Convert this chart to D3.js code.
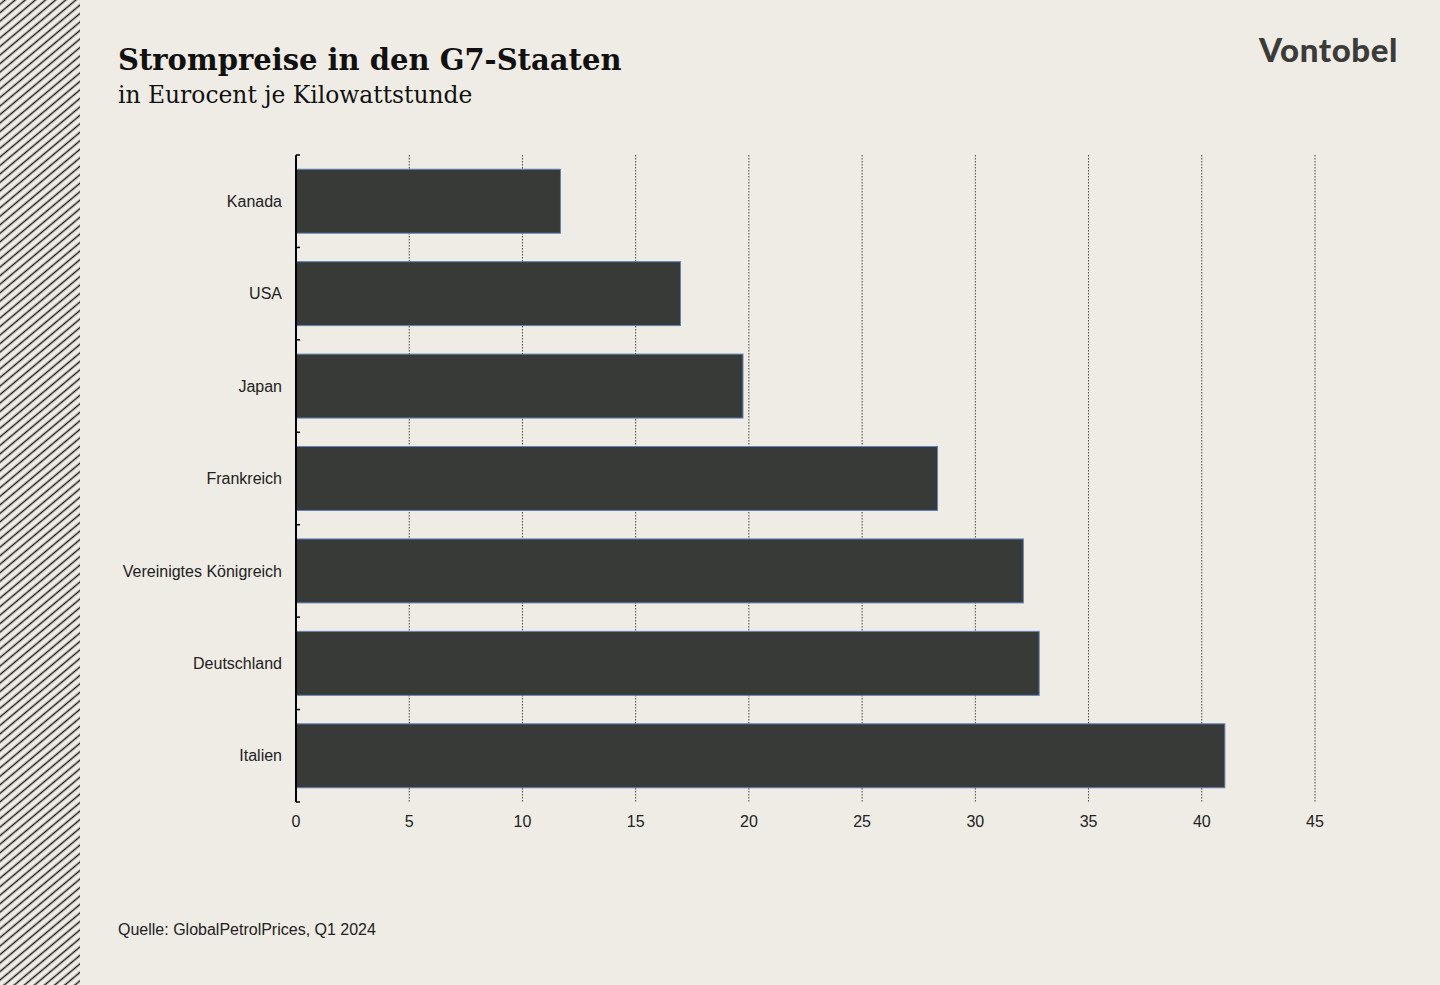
<!DOCTYPE html>
<html>
<head>
<meta charset="utf-8">
<script src="https://cdn.jsdelivr.net/npm/d3@7"></script>
<style>
  html, body { margin: 0; padding: 0; background: #efece5; }
  svg { display: block; }
</style>
</head>
<body>
<svg id="chart" width="1440" height="985"></svg>
<script>
const categories = ["Kanada", "USA", "Japan", "Frankreich", "Vereinigtes Königreich", "Deutschland", "Italien"];
const values = [11.68, 16.98, 19.74, 28.33, 32.12, 32.82, 41.02];
const xTicks = [0, 5, 10, 15, 20, 25, 30, 35, 40, 45];
const titleText = "Strompreise in den G7-Staaten";
const subtitleText = "in Eurocent je Kilowattstunde";
const sourceText = "Quelle: GlobalPetrolPrices, Q1 2024";
const logoText = "Vontobel";

const W = 1440, H = 985;
const svg = d3.select("#chart");
const bg = "#efece5", ink = "#222222", barFill = "#383a37", barStroke = "#5f84bb";

svg.append("rect").attr("width", W).attr("height", H).attr("fill", bg);

// hatched strip on left
const defs = svg.append("defs");
const pat = defs.append("pattern")
  .attr("id", "hatch").attr("patternUnits", "userSpaceOnUse")
  .attr("width", 20).attr("height", 6.5)
  .attr("patternTransform", "rotate(-40)");
pat.append("rect").attr("width", 20).attr("height", 6.5).attr("fill", bg);
pat.append("rect").attr("x", 0).attr("y", 2.5).attr("width", 20).attr("height", 1.5).attr("fill", "#1f1f1f");
svg.append("rect").attr("x", 0).attr("y", 0).attr("width", 80).attr("height", H).attr("fill", "url(#hatch)");

const x = d3.scaleLinear().domain([0, 45]).range([296, 1315]);
const y = d3.scaleBand().domain(categories).range([155, 802]).paddingInner(0.308).paddingOuter(0.154);

// gridlines
svg.append("g").selectAll("line").data(xTicks.filter(d => d > 0)).join("line")
  .attr("x1", d => x(d)).attr("x2", d => x(d))
  .attr("y1", 155).attr("y2", 802)
  .attr("stroke", "#444").attr("stroke-width", 1).attr("stroke-dasharray", "1.5,1.5");

// bars
svg.append("g").selectAll("rect").data(categories).join("rect")
  .attr("x", x(0)).attr("y", d => y(d))
  .attr("width", (d, i) => x(values[i]) - x(0))
  .attr("height", y.bandwidth())
  .attr("fill", barFill).attr("stroke", barStroke).attr("stroke-width", 1);

// y axis (ticks at band boundaries, pointing inward)
const bounds = d3.range(categories.length + 1).map(i => 155 + i * y.step());
const yAxis = svg.append("g");
yAxis.append("line").attr("x1", x(0)).attr("x2", x(0)).attr("y1", 155).attr("y2", 802)
  .attr("stroke", "#000").attr("stroke-width", 2);
yAxis.selectAll("line.tk").data(bounds).join("line").attr("class", "tk")
  .attr("x1", x(0)).attr("x2", x(0) + 4).attr("y1", d => d).attr("y2", d => d)
  .attr("stroke", "#000").attr("stroke-width", 1.5);
yAxis.selectAll("text").data(categories).join("text")
  .attr("x", 282).attr("y", d => y(d) + y.bandwidth() / 2)
  .attr("dy", "0.35em").attr("text-anchor", "end")
  .attr("font-family", "Liberation Sans, Arial, sans-serif").attr("font-size", 16)
  .attr("fill", ink).text(d => d);

// x axis labels
svg.append("g").selectAll("text").data(xTicks).join("text")
  .attr("x", d => x(d)).attr("y", 827).attr("text-anchor", "middle")
  .attr("font-family", "Liberation Sans, Arial, sans-serif").attr("font-size", 16)
  .attr("fill", ink).text(d => d);

// titles
svg.append("text").attr("x", 118).attr("y", 70)
  .attr("font-family", "DejaVu Serif, serif").attr("font-weight", "bold").attr("font-size", 29)
  .attr("fill", "#111").text(titleText);
svg.append("text").attr("x", 118).attr("y", 103)
  .attr("font-family", "DejaVu Serif, serif").attr("font-size", 23.4)
  .attr("fill", "#111").text(subtitleText);

// logo
svg.append("text").attr("x", 1398).attr("y", 62).attr("text-anchor", "end")
  .attr("font-family", "Lato, sans-serif").attr("font-weight", 900).attr("font-size", 33)
  .attr("letter-spacing", 0.6)
  .attr("fill", "#3b3c39").text(logoText);

// source
svg.append("text").attr("x", 118).attr("y", 935)
  .attr("font-family", "Liberation Sans, Arial, sans-serif").attr("font-size", 16)
  .attr("fill", ink).text(sourceText);
</script>
</body>
</html>
